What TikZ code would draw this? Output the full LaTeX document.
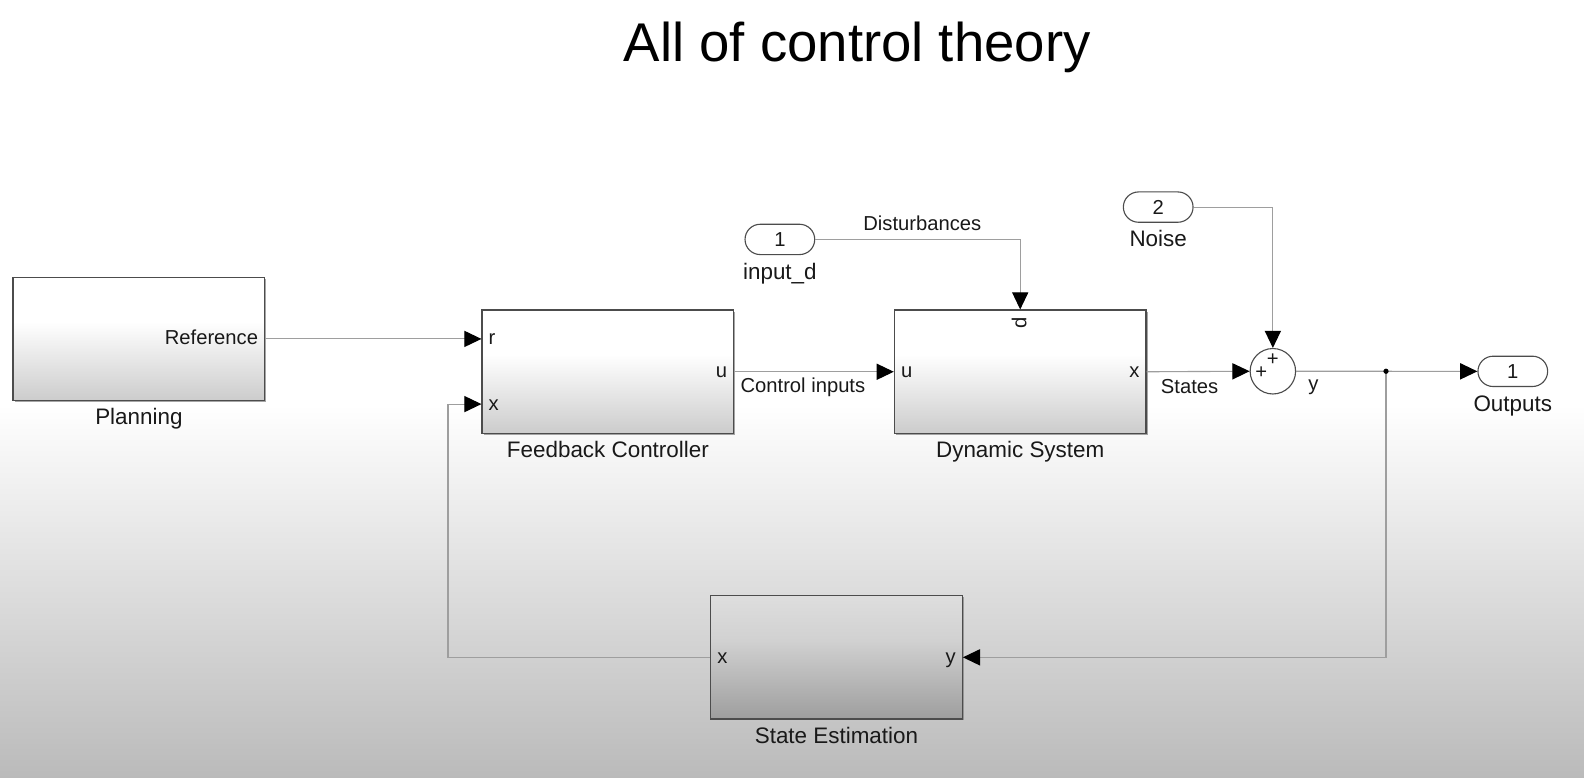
\documentclass[tikz,border=0pt]{standalone}
\usepackage{fontspec}
\setmainfont{Liberation Sans}
\usetikzlibrary{arrows.meta,calc,shapes.misc,shadows}
\definecolor{bgbot}{gray}{0.73}
\definecolor{blkbot}{gray}{0.80}
\definecolor{setop}{gray}{0.87}
\definecolor{semid}{gray}{0.82}
\definecolor{sebot}{gray}{0.62}
\definecolor{wire}{gray}{0.62}
\definecolor{edge}{gray}{0.30}
\definecolor{ink}{gray}{0.10}
\pgfdeclareverticalshading{bgshade}{100bp}{color(0bp)=(bgbot); color(25bp)=(bgbot); color(49bp)=(white); color(100bp)=(white)}
\pgfdeclareverticalshading{blkshade}{100bp}{color(0bp)=(blkbot); color(25bp)=(blkbot); color(57bp)=(white); color(100bp)=(white)}
\pgfdeclareverticalshading{seshade}{100bp}{color(0bp)=(sebot); color(25bp)=(sebot); color(57bp)=(semid); color(75bp)=(setop); color(100bp)=(setop)}
\begin{document}
\begin{tikzpicture}[x=1pt,y=-1pt,
  blk/.style={draw=edge, line width=1.3pt, minimum width=249pt, minimum height=122pt, inner sep=0pt, shade, shading=blkshade,
     drop shadow={shadow xshift=1.5pt, shadow yshift=-1.5pt, fill=gray, opacity=0.7}},
  seblk/.style={blk, shading=seshade},
  portbox/.style={rounded rectangle, draw=edge, line width=1.1pt, fill=white, minimum width=69pt, minimum height=30pt, inner sep=0pt, font=\fontsize{20}{24}\selectfont, text=ink},
  sumblk/.style={circle, draw=edge, line width=1.1pt, fill=white, minimum size=45pt, inner sep=0pt},
  blkname/.style={anchor=base, inner sep=0pt, text=ink, font=\fontsize{22.2}{26}\selectfont},
  plab/.style={inner sep=0pt, text=ink, font=\fontsize{20}{24}\selectfont},
  slab/.style={anchor=base west, inner sep=0pt, text=ink, font=\fontsize{20}{24}\selectfont},
  sig/.style={draw=wire, line width=1.1pt, -{Triangle[length=17pt,width=16pt,fill=black,color=black]}}]
\useasboundingbox (0,0) rectangle (1568,770);
\shade[shading=bgshade] (0,0) rectangle (1568,770);

% title
\node[anchor=base, inner sep=0pt, text=black, font=\fontsize{54}{60}\selectfont] (title) at (848.5,61) {All of control theory};

% blocks
\node[blk] (plan) at (137.5,335.5) {};
\node[blk] (fc) at (601.75,368) {};
\node[blk] (ds) at (1009.9,368) {};
\node[seblk] (se) at (828,650.7) {};
\node[sumblk] (sum) at (1260,367.5) {};
\node[portbox] (inp) at (772,237) {1};
\node[portbox] (noise) at (1146.5,205) {2};
\node[portbox] (out) at (1497.5,367.6) {1};

% names
\node[blkname] (nplan) at ($(plan.south)+(0,23.5)$) {Planning};
\node[blkname] (nfc) at ($(fc.south)+(0,23)$) {Feedback Controller};
\node[blkname] (nds) at ($(ds.south)+(0,23)$) {Dynamic System};
\node[blkname] (nse) at ($(se.south)+(0,23.5)$) {State Estimation};
\node[blkname] (ninp) at ($(inp.south)+(0,24)$) {input\_d};
\node[blkname] (nnoise) at ($(noise.south)+(0,23.5)$) {Noise};
\node[blkname] (nout) at ($(out.south)+(0,24)$) {Outputs};

% port coordinates
\coordinate (fcr) at (fc.west |- plan.east);
\coordinate (fcx) at ($(fc.west)+(0,32)$);
\coordinate (br) at (1372,367.5);
\coordinate (fbc) at (443.5,400);

% port labels
\node[plab, anchor=base east] (pref) at ($(plan.east)+(-7,6)$) {Reference};
\node[plab, anchor=base west] (pr) at ($(fcr)+(7,6)$) {r};
\node[plab, anchor=base west] (px) at ($(fcx)+(7,6)$) {x};
\node[plab, anchor=base east] (pu) at ($(fc.east)+(-7,6)$) {u};
\node[plab, anchor=base west] (pdu) at ($(ds.west)+(7,6)$) {u};
\node[plab, anchor=base east] (pdx) at ($(ds.east)+(-7,6)$) {x};
\node[plab, rotate=90] (pdd) at ($(ds.north)+(-1,13)$) {d};
\node[plab, anchor=base west] (psx) at ($(se.west)+(7,6)$) {x};
\node[plab, anchor=base east] (psy) at ($(se.east)+(-7,6)$) {y};
\node[plab] (pp1) at ($(sum.center)+(-11.5,1.5)$) {+};
\node[plab] (pp2) at ($(sum.center)+(0,-11)$) {+};

% connectors
\draw[sig] (plan.east) -- (fcr);
\draw[sig] (fc.east) -- (ds.west);
\draw[sig] (ds.east) -- (sum.west);
\draw[sig] (inp.east) -| (ds.north);
\draw[sig] (noise.east) -| (sum.north);
\draw[sig] (sum.east) -- (out.west);
\draw[sig] (br) |- (se.east);
\draw[sig] (se.west) -| (fbc) -- (fcx);
\fill[black] (br) circle (2.6pt);

% signal labels
\node[slab, anchor=base] (ldist) at (913,228.4) {Disturbances};
\node[slab] (lctrl) at ($(fc.east)+(6,21)$) {Control inputs};
\node[slab] (lstates) at ($(ds.east)+(14,21.5)$) {States};
\node[slab] (ly) at ($(sum.east)+(12,19.5)$) {y};
\end{tikzpicture}
\end{document}
